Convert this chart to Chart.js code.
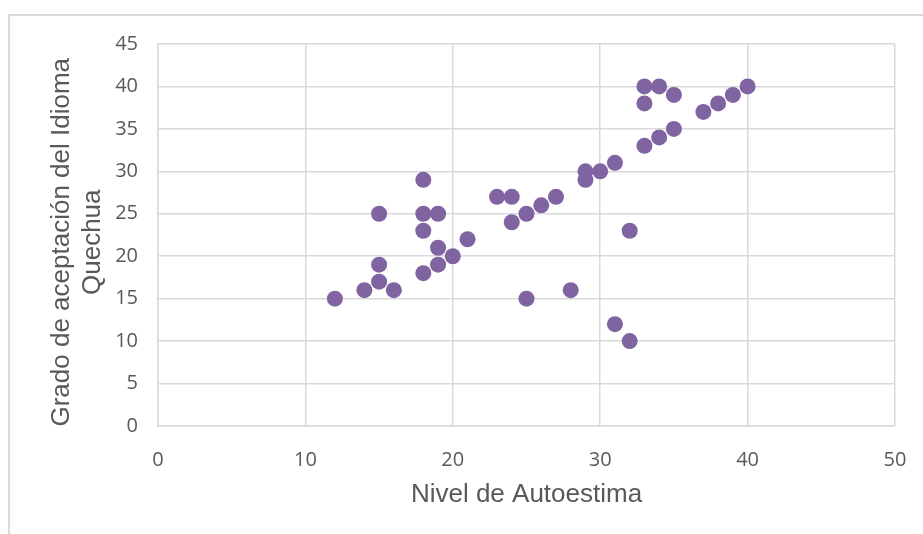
<!DOCTYPE html>
<html>
<head>
<meta charset="utf-8">
<script src="https://cdn.jsdelivr.net/npm/chart.js@4"></script>
<style>
  body { margin: 0; background: #fff; }
  #wrap { position: relative; width: 923px; height: 534px; overflow: hidden; }
  #frame { position: absolute; left: 8px; top: 14px; width: 940px; height: 540px; border: 2px solid #dadada; }
  canvas { position: absolute; left: 0; top: 0; }
</style>
</head>
<body>
<div id="wrap">
  <div id="frame"></div>
  <canvas id="myChart" width="923" height="534"></canvas>
</div>
<script>
// Nivel de Autoestima (x) vs Grado de aceptación del Idioma Quechua (y)
const autoestima = [12, 14, 15, 15, 15, 16, 18, 18, 18, 18, 19, 19, 19, 20, 21, 23, 24, 24, 25, 25, 26,
  27, 28, 29, 29, 30, 31, 31, 32, 32, 33, 33, 33, 34, 34, 35, 35, 37, 38, 39, 40];
const aceptacion = [15, 16, 17, 19, 25, 16, 29, 25, 23, 18, 25, 21, 19, 20, 22, 27, 27, 24, 25, 15, 26,
  27, 16, 30, 29, 30, 31, 12, 23, 10, 40, 38, 33, 40, 34, 39, 35, 37, 38, 39, 40];
const xTitle = 'Nivel de Autoestima';
// trailing no-break spaces nudge the rotated title a little lower, like the original
const yTitle = ['Grado de aceptación del Idioma\u00a0\u00a0', 'Quechua\u00a0\u00a0'];

const points = autoestima.map((x, i) => ({ x: x, y: aceptacion[i] }));

const gray = '#595959';
const gridColor = '#d9d9d9';

new Chart(document.getElementById('myChart'), {
  type: 'scatter',
  data: {
    datasets: [{
      data: points,
      backgroundColor: '#8064a2',
      borderWidth: 0,
      pointRadius: 8,
      pointHoverRadius: 8,
    }],
  },
  options: {
    responsive: false,
    animation: false,
    layout: { padding: { left: 0, top: 44, right: 28, bottom: 0 } },
    plugins: { legend: { display: false }, tooltip: { enabled: false } },
    scales: {
      x: {
        type: 'linear',
        min: 0,
        max: 50,
        ticks: { stepSize: 10, color: gray, padding: 14, font: { family: 'Open Sans', size: 20 } },
        // invisible tick marks push the labels down without widening the right padding
        grid: { color: gridColor, lineWidth: 1.5, drawTicks: true, tickLength: 8, tickColor: 'rgba(0,0,0,0)' },
        border: { color: gridColor, width: 1.5 },
        title: {
          display: true,
          text: xTitle,
          color: gray,
          font: { family: 'Liberation Sans', size: 26 },
          padding: { top: 0, bottom: 24 },
        },
        afterFit: (scale) => { scale.height = 108; },
      },
      y: {
        type: 'linear',
        min: 0,
        max: 45,
        ticks: { stepSize: 5, color: gray, padding: 20, font: { family: 'Open Sans', size: 20 } },
        grid: { color: gridColor, lineWidth: 1.5, drawTicks: false },
        border: { color: gridColor, width: 1.5 },
        title: {
          display: true,
          text: yTitle,
          color: gray,
          font: { family: 'Liberation Sans', size: 26, lineHeight: 1.2 },
          padding: { top: 46, bottom: 0 },
        },
        afterFit: (scale) => { scale.width = 158; },
      },
    },
  },
});
</script>
</body>
</html>
